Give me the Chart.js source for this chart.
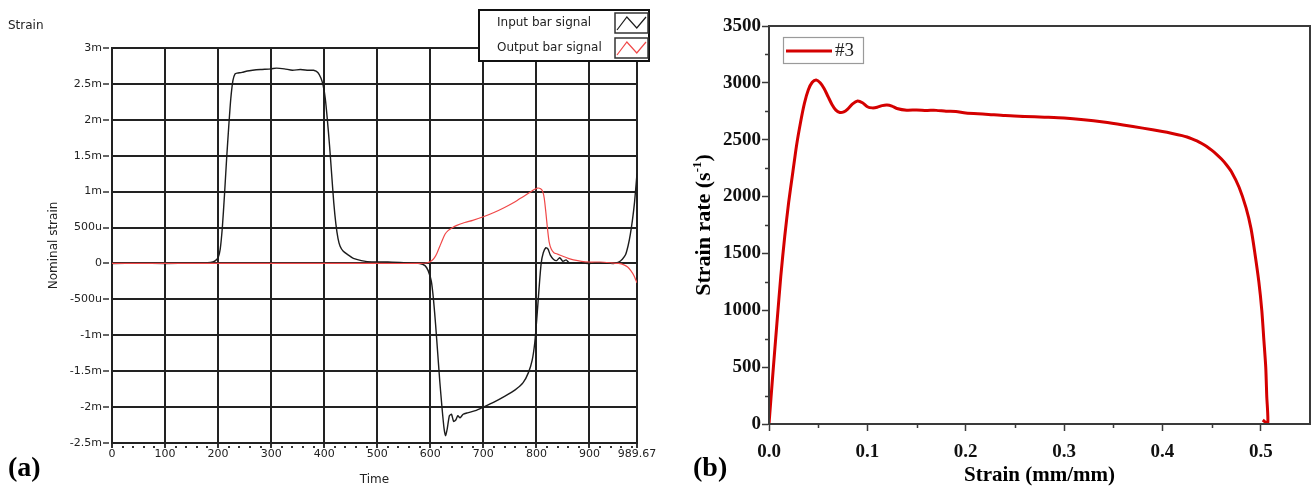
<!DOCTYPE html>
<html>
<head>
<meta charset="utf-8">
<title>Bar signals and strain rate</title>
<script src="https://cdn.jsdelivr.net/npm/chart.js@4.4.1/dist/chart.umd.min.js"></script>
<style>
  html, body { margin: 0; padding: 0; background: #fff; }
  #wrap { position: relative; width: 1313px; height: 489px; overflow: hidden; }
  #panelA { position: absolute; left: 0; top: 0; }
  #panelB { position: absolute; left: 660px; top: 0; }
</style>
</head>
<body>
<div id="wrap">
  <canvas id="panelA" width="660" height="489"></canvas>
  <canvas id="panelB" width="653" height="489"></canvas>
</div>
<script>
// (a) bar gauge signals, strain in milli-units
const timeInput = [0, 50, 100, 150, 180, 190, 195, 200, 204, 208, 212, 216, 220, 224, 228, 232, 236, 245, 255, 265, 280, 300, 310, 325, 340, 355, 370, 380, 388, 394, 398, 402, 406, 410, 414, 418, 422, 426, 430, 436, 445, 455, 470, 490, 520, 550, 580, 590, 596, 602, 606, 610, 614, 618, 622, 626, 629, 632, 636, 640, 644, 648, 652, 656, 662, 670, 685, 700, 720, 740, 760, 775, 785, 792, 797, 801, 805, 809, 813, 818, 822, 826, 832, 838, 844, 850, 856, 862, 880, 900, 920, 945, 955, 962, 968, 973, 977, 981, 985, 989.67];
const inputSignal = [0, 0.005, 0, 0.005, 0.01, 0.02, 0.04, 0.08, 0.2, 0.5, 0.95, 1.45, 1.9, 2.3, 2.55, 2.64, 2.65, 2.66, 2.68, 2.69, 2.7, 2.71, 2.72, 2.71, 2.69, 2.7, 2.69, 2.69, 2.66, 2.58, 2.48, 2.3, 2.0, 1.65, 1.25, 0.85, 0.55, 0.35, 0.24, 0.17, 0.12, 0.07, 0.04, 0.02, 0.02, 0.01, 0, -0.03, -0.1, -0.25, -0.5, -0.85, -1.25, -1.65, -2.0, -2.3, -2.4, -2.3, -2.12, -2.1, -2.2, -2.18, -2.12, -2.15, -2.1, -2.08, -2.05, -2.0, -1.93, -1.85, -1.76, -1.66, -1.52, -1.35, -1.1, -0.75, -0.35, 0, 0.15, 0.22, 0.2, 0.12, 0.06, 0.04, 0.08, 0.03, 0.05, 0.01, 0.01, 0, 0.01, 0, 0.02, 0.06, 0.12, 0.25, 0.4, 0.6, 0.85, 1.25];

const timeOutput = [0, 100, 200, 300, 400, 500, 580, 595, 603, 608, 613, 618, 623, 628, 634, 640, 650, 665, 680, 700, 720, 740, 760, 775, 788, 796, 802, 808, 812, 815, 818, 821, 824, 828, 833, 840, 850, 860, 870, 885, 900, 920, 940, 955, 965, 972, 978, 984, 989.67];
const outputSignal = [0, 0, 0, 0, 0, 0, 0, 0.01, 0.04, 0.08, 0.15, 0.24, 0.33, 0.41, 0.46, 0.49, 0.53, 0.57, 0.6, 0.65, 0.71, 0.78, 0.86, 0.93, 0.99, 1.03, 1.05, 1.04, 1.0, 0.9, 0.7, 0.48, 0.3, 0.2, 0.15, 0.13, 0.1, 0.07, 0.05, 0.03, 0.02, 0.02, 0.01, 0, -0.02, -0.05, -0.1, -0.17, -0.27];

const timeTicks = [0, 100, 200, 300, 400, 500, 600, 700, 800, 900, 989.67];
const timeTickLabels = ['0', '100', '200', '300', '400', '500', '600', '700', '800', '900', '989.67'];
const strainTicks = [-2.5, -2, -1.5, -1, -0.5, 0, 0.5, 1, 1.5, 2, 2.5, 3];
const strainTickLabels = ['-2.5m', '-2m', '-1.5m', '-1m', '-500u', '0', '500u', '1m', '1.5m', '2m', '2.5m', '3m'];

// (b) strain rate against strain, specimen #3
const strainValues = [0, 0.004, 0.008, 0.012, 0.016, 0.020, 0.024, 0.028, 0.032, 0.036, 0.040, 0.044, 0.048, 0.052, 0.056, 0.060, 0.064, 0.068, 0.072, 0.076, 0.080, 0.085, 0.090, 0.095, 0.100, 0.105, 0.110, 0.115, 0.120, 0.125, 0.130, 0.140, 0.150, 0.160, 0.170, 0.180, 0.190, 0.200, 0.220, 0.240, 0.260, 0.280, 0.300, 0.320, 0.340, 0.360, 0.380, 0.400, 0.410, 0.420, 0.425, 0.430, 0.435, 0.440, 0.445, 0.450, 0.455, 0.460, 0.465, 0.470, 0.478, 0.485, 0.490, 0.494, 0.498, 0.501, 0.503, 0.505, 0.506, 0.507, 0.502];
const strainRateValues = [0, 450, 880, 1300, 1650, 1950, 2200, 2450, 2650, 2820, 2940, 3005, 3025, 3000, 2950, 2880, 2810, 2760, 2740, 2745, 2770, 2815, 2840, 2825, 2790, 2780, 2785, 2800, 2805, 2795, 2775, 2760, 2762, 2758, 2758, 2750, 2748, 2735, 2725, 2712, 2705, 2698, 2690, 2675, 2655, 2630, 2602, 2572, 2555, 2536, 2524, 2508, 2490, 2467, 2440, 2408, 2372, 2330, 2280, 2220, 2080, 1900, 1720, 1500, 1250, 1000, 750, 500, 250, 0, 35];

const strainAxisTicks = [0, 0.1, 0.2, 0.3, 0.4, 0.5];
const strainAxisLabels = ['0.0', '0.1', '0.2', '0.3', '0.4', '0.5'];
const rateTicks = [0, 500, 1000, 1500, 2000, 2500, 3000, 3500];
const rateTickLabels = ['0', '500', '1000', '1500', '2000', '2500', '3000', '3500'];

const toPoints = (xs, ys) => xs.map((x, i) => ({ x: x, y: ys[i] }));

const sansA = '"DejaVu Sans", "Open Sans", sans-serif';
const serifB = '"Liberation Serif", "Times New Roman", serif';

// pin the plot rectangle: fixed axis sizes, no label overhang padding
function fixWidth(w) {
  return (scale) => {
    scale.width = w;
    scale.paddingTop = 0;
    scale.paddingBottom = 0;
  };
}
function fixHeight(h) {
  return (scale) => {
    scale.height = h;
    scale.paddingLeft = 0;
    scale.paddingRight = 0;
  };
}
function setTicks(values) {
  return (scale) => {
    scale.ticks = values.map((v) => ({ value: v }));
  };
}

function zigzag(ctx, x, y, w, h) {
  ctx.beginPath();
  ctx.moveTo(x + 2, y + h - 3);
  ctx.lineTo(x + w * 0.36, y + 4);
  ctx.lineTo(x + w * 0.66, y + h - 5);
  ctx.lineTo(x + w - 2, y + 4);
  ctx.stroke();
}

const signalDecor = {
  id: 'signalDecor',
  afterDraw(chart) {
    const { ctx, chartArea: area } = chart;
    const x = chart.scales.x;
    ctx.save();

    // minor time ticks under the axis
    ctx.fillStyle = '#333';
    for (let t = 20; t < 989; t += 20) {
      if (t % 100 === 0) continue;
      const px = x.getPixelForValue(t);
      ctx.fillRect(Math.round(px) - 1, area.bottom + 3, 2, 2);
    }

    ctx.fillStyle = '#222';
    ctx.font = '12px ' + sansA;
    ctx.textBaseline = 'middle';
    ctx.textAlign = 'left';
    ctx.fillText('Strain', 8, 26);

    // legend box over the top right corner
    const lx = 479, ly = 10, lw = 170, lh = 51;
    ctx.fillStyle = '#fff';
    ctx.fillRect(lx, ly, lw, lh);
    ctx.strokeStyle = '#111';
    ctx.lineWidth = 2;
    ctx.strokeRect(lx, ly, lw, lh);

    const rows = [
      { y: 13, text: chart.data.datasets[1].label, color: chart.data.datasets[1].borderColor },
      { y: 38, text: chart.data.datasets[0].label, color: chart.data.datasets[0].borderColor }
    ];
    ctx.font = '12px ' + sansA;
    rows.forEach((r) => {
      ctx.fillStyle = '#222';
      ctx.fillText(r.text, 497, r.y + 10);
      ctx.strokeStyle = '#333';
      ctx.lineWidth = 1.5;
      ctx.strokeRect(615, r.y, 33, 20);
      ctx.strokeStyle = r.color;
      ctx.lineWidth = 1.2;
      zigzag(ctx, 615, r.y, 33, 20);
    });

    ctx.fillStyle = '#000';
    ctx.font = 'bold 28px ' + serifB;
    ctx.textBaseline = 'alphabetic';
    ctx.fillText('(a)', 8, 476);
    ctx.restore();
  }
};

new Chart(document.getElementById('panelA'), {
  type: 'line',
  data: {
    datasets: [
      {
        label: 'Output bar signal',
        data: toPoints(timeOutput, outputSignal),
        borderColor: '#f04848',
        borderWidth: 1.2,
        pointRadius: 0,
        tension: 0.2
      },
      {
        label: 'Input bar signal',
        data: toPoints(timeInput, inputSignal),
        borderColor: '#1c1c1c',
        borderWidth: 1.4,
        pointRadius: 0,
        tension: 0.2
      }
    ]
  },
  options: {
    responsive: false,
    animation: false,
    layout: { padding: { left: 0, top: 48, right: 23, bottom: 0 } },
    plugins: { legend: { display: false }, tooltip: { enabled: false } },
    scales: {
      x: {
        type: 'linear',
        min: 0,
        max: 989.67,
        afterBuildTicks: setTicks(timeTicks),
        afterFit: fixHeight(46),
        grid: { color: '#222', lineWidth: 2, drawTicks: true, tickLength: 5, tickWidth: 2, tickColor: '#333' },
        border: { display: true, color: '#222', width: 2 },
        ticks: {
          autoSkip: false,
          maxRotation: 0,
          padding: 0,
          color: '#222',
          font: { family: sansA, size: 11 },
          callback: (v, i) => timeTickLabels[i]
        },
        title: {
          display: true,
          text: 'Time',
          color: '#222',
          font: { family: sansA, size: 12 },
          padding: { top: 0, bottom: 2 }
        }
      },
      y: {
        min: -2.5,
        max: 3,
        afterBuildTicks: setTicks(strainTicks),
        afterFit: fixWidth(112),
        grid: { color: '#222', lineWidth: 2, drawTicks: true, tickLength: 9, tickWidth: 1.5, tickColor: '#333', tickBorderDash: [6, 3] },
        border: { display: true, color: '#222', width: 2 },
        ticks: {
          autoSkip: false,
          padding: 1,
          color: '#222',
          font: { family: sansA, size: 11 },
          callback: (v, i) => strainTickLabels[i]
        },
        title: {
          display: true,
          text: 'Nominal strain',
          color: '#222',
          font: { family: sansA, size: 12 },
          padding: { top: 47, bottom: 0 }
        }
      }
    }
  },
  plugins: [signalDecor]
});

const rateDecor = {
  id: 'rateDecor',
  afterDraw(chart) {
    const { ctx, chartArea: area } = chart;
    const { x, y } = chart.scales;
    ctx.save();

    // frame on all four sides
    ctx.strokeStyle = '#3a3a3a';
    ctx.lineWidth = 2;
    ctx.strokeRect(area.left, area.top, area.right - area.left, area.bottom - area.top);

    // minor ticks, half way between the labelled ones
    ctx.lineWidth = 1.5;
    ctx.beginPath();
    for (let s = 0.05; s < 0.5; s += 0.1) {
      const px = Math.round(x.getPixelForValue(s)) + 0.5;
      ctx.moveTo(px, area.bottom);
      ctx.lineTo(px, area.bottom + 4);
    }
    for (let r = 250; r < 3500; r += 500) {
      const py = Math.round(y.getPixelForValue(r)) + 0.5;
      ctx.moveTo(area.left, py);
      ctx.lineTo(area.left - 4, py);
    }
    ctx.stroke();

    // vertical axis title with superscript
    ctx.translate(50, (area.top + area.bottom) / 2);
    ctx.rotate(-Math.PI / 2);
    ctx.fillStyle = '#000';
    const big = 'bold 22px ' + serifB;
    const small = 'bold 13px ' + serifB;
    const partA = 'Strain rate (s';
    const partB = '-1';
    const partC = ')';
    ctx.font = big;
    const wA = ctx.measureText(partA).width;
    const wC = ctx.measureText(partC).width;
    ctx.font = small;
    const wB = ctx.measureText(partB).width;
    let cx = -(wA + wB + wC) / 2;
    ctx.textBaseline = 'alphabetic';
    ctx.textAlign = 'left';
    ctx.font = big;
    ctx.fillText(partA, cx, 0);
    cx += wA;
    ctx.font = small;
    ctx.fillText(partB, cx, -9);
    cx += wB;
    ctx.font = big;
    ctx.fillText(partC, cx, 0);
    ctx.setTransform(1, 0, 0, 1, 0, 0);

    // legend
    const ds = chart.data.datasets[0];
    ctx.fillStyle = '#fff';
    ctx.fillRect(123, 37, 80, 26);
    ctx.strokeStyle = '#9a9a9a';
    ctx.lineWidth = 1.2;
    ctx.strokeRect(123.5, 37.5, 80, 26);
    ctx.strokeStyle = ds.borderColor;
    ctx.lineWidth = 3;
    ctx.beginPath();
    ctx.moveTo(126, 51);
    ctx.lineTo(172, 51);
    ctx.stroke();
    ctx.fillStyle = '#222';
    ctx.font = '19px ' + serifB;
    ctx.textBaseline = 'middle';
    ctx.fillText(ds.label, 175, 51);

    ctx.fillStyle = '#000';
    ctx.font = 'bold 28px ' + serifB;
    ctx.textBaseline = 'alphabetic';
    ctx.fillText('(b)', 33, 476);
    ctx.restore();
  }
};

new Chart(document.getElementById('panelB'), {
  type: 'line',
  data: {
    datasets: [
      {
        label: '#3',
        data: toPoints(strainValues, strainRateValues),
        borderColor: '#d40000',
        borderWidth: 3,
        pointRadius: 0,
        tension: 0.25
      }
    ]
  },
  options: {
    responsive: false,
    animation: false,
    layout: { padding: { left: 0, top: 26, right: 3, bottom: 0 } },
    plugins: { legend: { display: false }, tooltip: { enabled: false } },
    scales: {
      x: {
        type: 'linear',
        min: 0,
        max: 0.55,
        afterBuildTicks: setTicks(strainAxisTicks),
        afterFit: fixHeight(65),
        grid: { drawOnChartArea: false, drawTicks: true, tickLength: 7, tickWidth: 1.5, tickColor: '#3a3a3a' },
        border: { display: true, color: '#3a3a3a', width: 2 },
        ticks: {
          autoSkip: false,
          maxRotation: 0,
          padding: 10,
          color: '#111',
          font: { family: serifB, size: 19, weight: 'bold' },
          callback: (v, i) => strainAxisLabels[i]
        },
        title: {
          display: true,
          text: 'Strain (mm/mm)',
          color: '#000',
          font: { family: serifB, size: 21, weight: 'bold' },
          padding: { top: 0, bottom: 1 }
        }
      },
      y: {
        min: 0,
        max: 3500,
        afterBuildTicks: setTicks(rateTicks),
        afterFit: fixWidth(109),
        grid: { drawOnChartArea: false, drawTicks: true, tickLength: 7, tickWidth: 1.5, tickColor: '#3a3a3a' },
        border: { display: true, color: '#3a3a3a', width: 2 },
        ticks: {
          autoSkip: false,
          padding: 1,
          color: '#111',
          font: { family: serifB, size: 19, weight: 'bold' },
          callback: (v, i) => rateTickLabels[i]
        }
      }
    }
  },
  plugins: [rateDecor]
});
</script>
</body>
</html>
